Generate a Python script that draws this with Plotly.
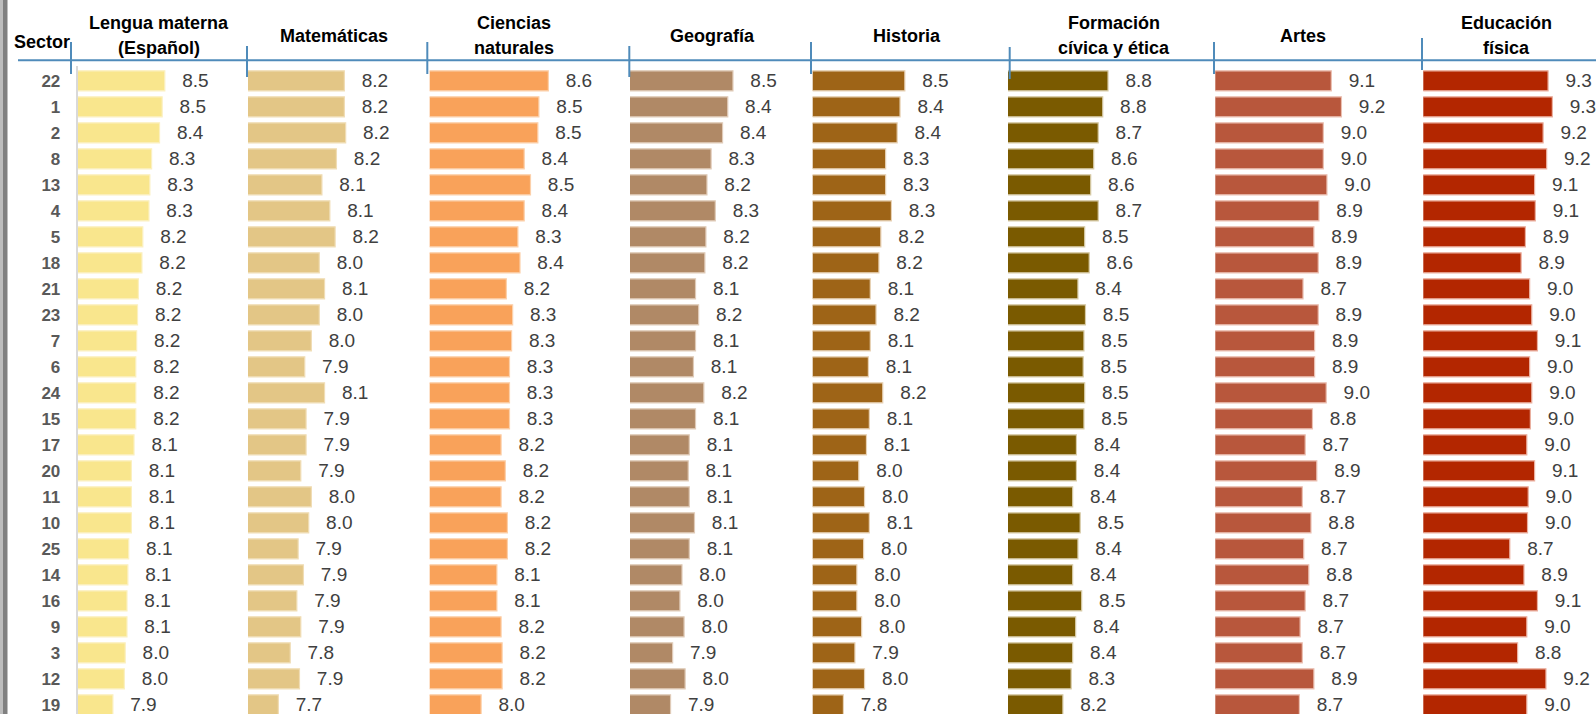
import plotly.graph_objects as go

# ---------------- data ----------------
sectors = ["22", "1", "2", "8", "13", "4", "5", "18", "21", "23", "7", "6", "24",
           "15", "17", "20", "11", "10", "25", "14", "16", "9", "3", "12", "19"]

subject_titles = [
    ["Lengua materna", "(Español)"],
    ["Matemáticas"],
    ["Ciencias", "naturales"],
    ["Geografía"],
    ["Historia"],
    ["Formación", "cívica y ética"],
    ["Artes"],
    ["Educación", "física"],
]

lengua = [8.49, 8.46, 8.43, 8.34, 8.32, 8.31, 8.24, 8.23, 8.19, 8.18, 8.17, 8.16, 8.16,
          8.16, 8.14, 8.11, 8.11, 8.11, 8.08, 8.07, 8.06, 8.06, 8.04, 8.03, 7.90]
matematicas = [8.23, 8.23, 8.24, 8.17, 8.06, 8.12, 8.16, 8.04, 8.08, 8.04, 7.98, 7.93, 8.08,
               7.94, 7.94, 7.90, 7.98, 7.96, 7.88, 7.92, 7.87, 7.90, 7.82, 7.89, 7.73]
ciencias = [8.63, 8.54, 8.53, 8.40, 8.46, 8.40, 8.34, 8.36, 8.23, 8.29, 8.28, 8.26, 8.26,
            8.26, 8.18, 8.22, 8.18, 8.24, 8.24, 8.14, 8.14, 8.18, 8.19, 8.19, 7.99]
geografia = [8.49, 8.44, 8.39, 8.28, 8.24, 8.32, 8.23, 8.22, 8.13, 8.16, 8.13, 8.11, 8.21,
             8.13, 8.07, 8.06, 8.07, 8.12, 8.07, 8.00, 7.98, 8.02, 7.91, 8.03, 7.89]
historia = [8.46, 8.41, 8.38, 8.26, 8.26, 8.32, 8.21, 8.19, 8.10, 8.16, 8.10, 8.08, 8.23,
            8.09, 8.06, 7.98, 8.04, 8.09, 8.03, 7.96, 7.96, 8.01, 7.94, 8.04, 7.82]
formacion = [8.83, 8.76, 8.70, 8.64, 8.60, 8.70, 8.52, 8.58, 8.43, 8.53, 8.51, 8.50, 8.52,
             8.51, 8.41, 8.41, 8.36, 8.46, 8.43, 8.36, 8.48, 8.40, 8.36, 8.34, 8.23]
artes = [9.10, 9.24, 8.99, 8.99, 9.04, 8.93, 8.86, 8.92, 8.71, 8.92, 8.87, 8.87, 9.03,
         8.84, 8.74, 8.90, 8.70, 8.82, 8.72, 8.79, 8.74, 8.67, 8.70, 8.86, 8.66]
educacion = [9.26, 9.32, 9.19, 9.24, 9.07, 9.08, 8.94, 8.88, 9.00, 9.03, 9.11, 9.00, 9.03,
             9.01, 8.96, 9.07, 8.98, 8.97, 8.72, 8.92, 9.11, 8.96, 8.83, 9.23, 8.96]

series = [lengua, matematicas, ciencias, geografia, historia, formacion, artes, educacion]

# ---------------- styling / geometry (pixels) ----------------
W, H = 1596, 714
colors = ["#F9E68D", "#E3C686", "#F9A25A", "#B08966", "#9E6417", "#7A5A00", "#B8573C", "#B32600"]
edge_colors = ["#FBF0C0", "#F0DDB5", "#FCD0AA", "#E0CBB8", "#E8D2B5", "#D8CCA8", "#EBC0B2", "#EBB0A0"]
bar_start_px = [77.7, 248.0, 429.7, 630.0, 812.7, 1008.0, 1215.3, 1423.3]
px_per_unit = [88.0, 132.0, 105.0, 104.0, 96.0, 75.2, 72.5, 70.9]
axis_min = 7.5
title_x_px = [158.5, 333.7, 514.0, 712.0, 906.7, 1114.0, 1303.0, 1506.7]
tick_x_px = [71.0, 247.0, 427.3, 629.3, 811.0, 1009.7, 1214.0, 1422.0]
tick_y_px = [(42, 74), (46, 77), (42, 74), (46, 77), (42, 74), (47, 79), (42, 74), (38, 70)]

row0_px, row_step = 80.8, 26.0
y_top_px = 66.0

FONT = "Liberation Sans Narrow, Arial Narrow, Liberation Sans, Arial, sans-serif"

fig = go.Figure()
idx = list(range(len(sectors)))
gap = "\u00a0\u00a0\u2009"

for k, vals in enumerate(series):
    xa = "x" if k == 0 else f"x{k+1}"
    fig.add_trace(go.Bar(
        x=vals, y=idx, orientation="h",
        xaxis=xa, yaxis="y",
        marker=dict(color=colors[k], line=dict(color=edge_colors[k], width=1.2)),
        texttemplate=gap + "%{x:.1f}",
        textposition="outside", cliponaxis=False, constraintext="none",
        textfont=dict(family=FONT, size=19, color="#404040"),
        hoverinfo="skip",
    ))

layout_axes = {}
for k in range(8):
    p0 = bar_start_px[k]
    p1 = (bar_start_px[k + 1] - 8) if k < 7 else W
    name = "xaxis" if k == 0 else f"xaxis{k+1}"
    layout_axes[name] = dict(
        domain=[p0 / W, p1 / W],
        range=[axis_min, axis_min + (p1 - p0) / px_per_unit[k]],
        anchor="y", showgrid=False, zeroline=False, showticklabels=False,
        showline=False, fixedrange=True,
    )

dom_top = (H - y_top_px) / H
y_lo = (y_top_px - row0_px) / row_step
y_hi = (H - row0_px) / row_step
layout_axes["yaxis"] = dict(
    domain=[0, dom_top], range=[y_hi, y_lo], anchor="x",
    tickmode="array", tickvals=idx, ticktext=sectors,
    ticks="", ticklabelstandoff=12, ticklabeloverflow="allow",
    tickfont=dict(family=FONT, size=17, color="#595959", weight="bold"),
    showgrid=False, zeroline=False, fixedrange=True,
    showline=True, linecolor="#D9D9D9", linewidth=2,
)

shapes = []
# left grey frame strip
shapes.append(dict(type="rect", xref="paper", yref="paper", x0=0, x1=3 / W, y0=0, y1=1,
                   fillcolor="#BDBDBD", line=dict(width=0), layer="above"))
shapes.append(dict(type="rect", xref="paper", yref="paper", x0=3 / W, x1=7.5 / W, y0=0, y1=1,
                   fillcolor="#808080", line=dict(width=0), layer="above"))
# blue header line
blue = "#4F8BBA"
shapes.append(dict(type="line", xref="paper", yref="paper", x0=18 / W, x1=1, y0=1 - 60.3 / H, y1=1 - 60.3 / H,
                   line=dict(color=blue, width=2)))
for tx, (ty0, ty1) in zip(tick_x_px, tick_y_px):
    shapes.append(dict(type="line", xref="paper", yref="paper", x0=tx / W, x1=tx / W,
                       y0=1 - ty0 / H, y1=1 - ty1 / H, line=dict(color=blue, width=2)))

annotations = []
annotations.append(dict(text="<b>Sector</b>", xref="paper", yref="paper", x=12 / W, y=1 - 42 / H,
                        xanchor="left", yanchor="middle", showarrow=False,
                        font=dict(family=FONT, size=18, color="#000000")))
for k, lines in enumerate(subject_titles):
    ys = [35.5] if len(lines) == 1 else [22.5, 48.5]
    for line, ypx in zip(lines, ys):
        annotations.append(dict(text=f"<b>{line}</b>", xref="paper", yref="paper",
                                x=title_x_px[k] / W, y=1 - ypx / H, xanchor="center", yanchor="middle",
                                showarrow=False, font=dict(family=FONT, size=18, color="#000000")))

fig.update_layout(
    width=W, height=H, margin=dict(l=0, r=0, t=0, b=0, autoexpand=False),
    paper_bgcolor="white", plot_bgcolor="white",
    showlegend=False, bargap=0.23,
    shapes=shapes, annotations=annotations,
    **layout_axes,
)

fig.write_html("out.html", config={"displayModeBar": False, "staticPlot": True},
               post_script="document.body.style.margin='0';document.body.style.overflow='hidden';")
